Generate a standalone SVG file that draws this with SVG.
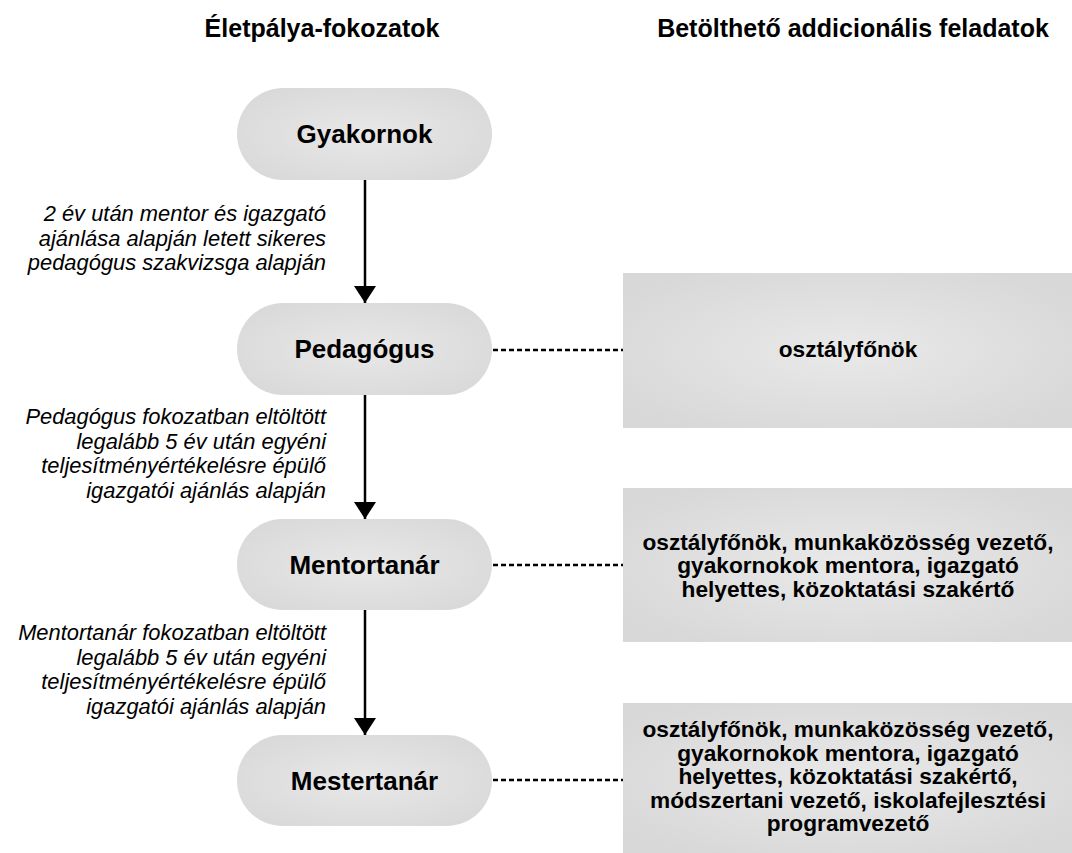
<svg xmlns="http://www.w3.org/2000/svg" width="1072" height="853" viewBox="0 0 1072 853">
  <style>
    .hdr { font-family: "Liberation Sans Narrow", "Liberation Sans", Arial, sans-serif; font-weight: bold; font-size: 25px; fill: #000; text-anchor: middle; }
    .stage { font-family: "Liberation Sans", Arial, sans-serif; font-weight: bold; font-size: 26px; fill: #000; text-anchor: middle; }
    .task { font-family: "Liberation Sans", Arial, sans-serif; font-weight: bold; font-size: 22.7px; fill: #000; text-anchor: middle; }
    .cond { font-family: "Liberation Sans", Arial, sans-serif; font-style: italic; font-size: 21.9px; fill: #000; text-anchor: end; }
    .pill { fill: url(#pillGrad); }
    .box { fill: url(#boxGrad); }
    .arrow { stroke: #000; stroke-width: 2.5; fill: none; marker-end: url(#head); }
    .dots { stroke: #000; stroke-width: 2.5; stroke-dasharray: 5 3; fill: none; }
  </style>
  <defs>
    <radialGradient id="pillGrad" cx="0.5" cy="0.5" r="0.6">
      <stop offset="0" stop-color="#e8e8e8"/>
      <stop offset="1" stop-color="#d9d9d9"/>
    </radialGradient>
    <radialGradient id="boxGrad" cx="0.5" cy="0.5" r="0.6">
      <stop offset="0" stop-color="#e9e9e9"/>
      <stop offset="1" stop-color="#d8d8d8"/>
    </radialGradient>
    <marker id="head" viewBox="0 0 17 22" refX="17" refY="11" markerWidth="17" markerHeight="22" markerUnits="userSpaceOnUse" orient="auto">
      <path d="M0,0 L17,11 L0,22 Z" fill="#000"/>
    </marker>
  </defs>

  <!-- column headings -->
  <text class="hdr" x="322" y="37">Életpálya-fokozatok</text>
  <text class="hdr" x="853" y="37">Betölthető addicionális feladatok</text>

  <!-- connectors -->
  <g id="connectors">
    <line class="arrow" x1="365" y1="180" x2="365" y2="303"/>
    <line class="arrow" x1="365" y1="395" x2="365" y2="519"/>
    <line class="arrow" x1="365" y1="610" x2="365" y2="735"/>
    <line class="dots" x1="493" y1="350" x2="623" y2="350"/>
    <line class="dots" x1="493" y1="565" x2="623" y2="565"/>
    <line class="dots" x1="493" y1="780" x2="623" y2="780"/>
  </g>

  <!-- transition conditions -->
  <g id="cond1">
    <text class="cond" x="326" y="221">2 év után mentor és igazgató</text>
    <text class="cond" x="326" y="245.5">ajánlása alapján letett sikeres</text>
    <text class="cond" x="326" y="270">pedagógus szakvizsga alapján</text>
  </g>
  <g id="cond2">
    <text class="cond" x="326" y="424">Pedagógus fokozatban eltöltött</text>
    <text class="cond" x="326" y="448.5">legalább 5 év után egyéni</text>
    <text class="cond" x="326" y="473">teljesítményértékelésre épülő</text>
    <text class="cond" x="326" y="497.5">igazgatói ajánlás alapján</text>
  </g>
  <g id="cond3">
    <text class="cond" x="326" y="640">Mentortanár fokozatban eltöltött</text>
    <text class="cond" x="326" y="664.5">legalább 5 év után egyéni</text>
    <text class="cond" x="326" y="689">teljesítményértékelésre épülő</text>
    <text class="cond" x="326" y="713.5">igazgatói ajánlás alapján</text>
  </g>

  <!-- career stages -->
  <g id="gyakornok">
    <rect class="pill" x="237" y="88" width="255" height="92" rx="46"/>
    <text class="stage" x="364.5" y="143">Gyakornok</text>
  </g>
  <g id="pedagogus">
    <rect class="pill" x="237" y="303" width="255" height="92" rx="46"/>
    <text class="stage" x="364.5" y="358">Pedagógus</text>
  </g>
  <g id="mentortanar">
    <rect class="pill" x="237" y="519" width="255" height="91" rx="45.5"/>
    <text class="stage" x="364.5" y="574">Mentortanár</text>
  </g>
  <g id="mestertanar">
    <rect class="pill" x="237" y="735" width="255" height="91" rx="45.5"/>
    <text class="stage" x="364.5" y="790">Mestertanár</text>
  </g>

  <!-- additional duties -->
  <g id="feladat-pedagogus">
    <rect class="box" x="623" y="273" width="449" height="155"/>
    <text class="task" x="848" y="357">osztályfőnök</text>
  </g>
  <g id="feladat-mentortanar">
    <rect class="box" x="623" y="488" width="449" height="154"/>
    <text class="task" x="848" y="549.5">osztályfőnök, munkaközösség vezető,</text>
    <text class="task" x="848" y="573">gyakornokok mentora, igazgató</text>
    <text class="task" x="848" y="596.5">helyettes, közoktatási szakértő</text>
  </g>
  <g id="feladat-mestertanar">
    <rect class="box" x="623" y="703" width="449" height="150"/>
    <text class="task" x="848" y="737">osztályfőnök, munkaközösség vezető,</text>
    <text class="task" x="848" y="760.5">gyakornokok mentora, igazgató</text>
    <text class="task" x="848" y="784">helyettes, közoktatási szakértő,</text>
    <text class="task" x="848" y="807.5">módszertani vezető, iskolafejlesztési</text>
    <text class="task" x="848" y="831">programvezető</text>
  </g>
</svg>
